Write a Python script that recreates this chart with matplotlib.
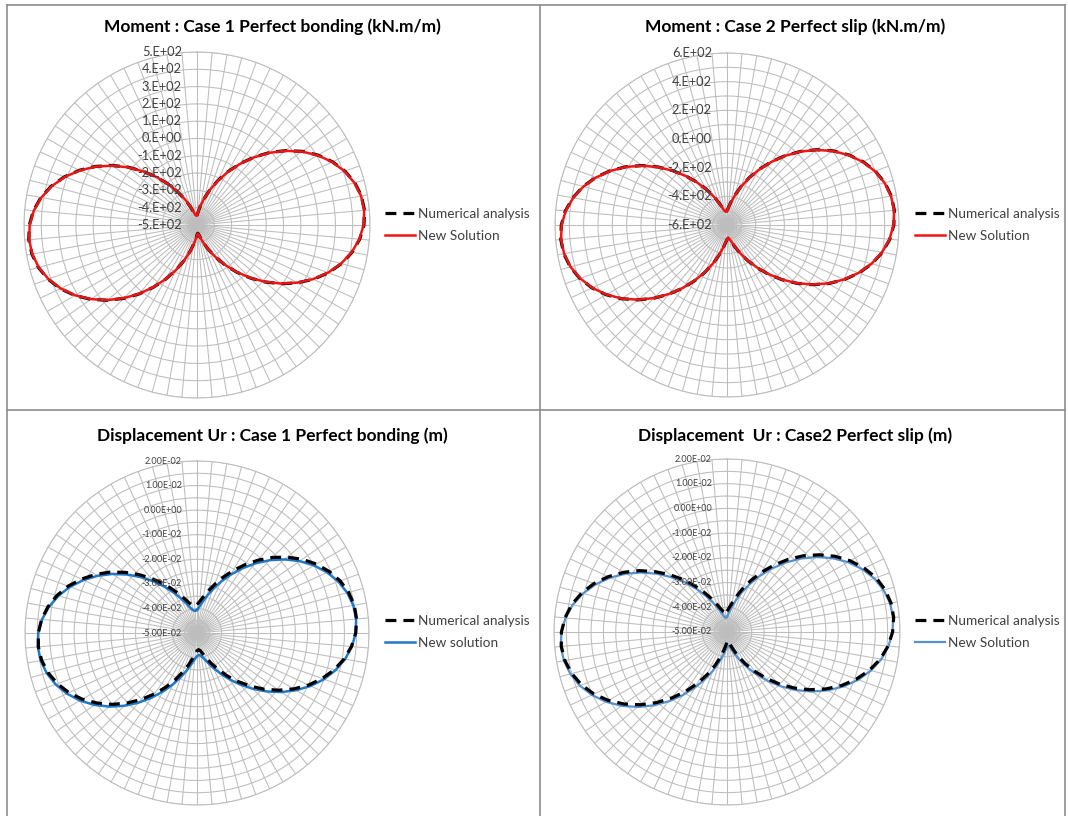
import numpy as np
import matplotlib.pyplot as plt
import matplotlib.transforms as mtransforms
from matplotlib.lines import Line2D

plt.rcParams['font.family'] = ['Lato', 'DejaVu Sans']

W, H = 1068, 816

# 72 categories, one every 5 degrees, clockwise from the top (Excel radar)
angles_deg = np.arange(0, 360, 5)

# Moment, case 1 perfect bonding (kN.m/m)
m1_numerical = [-445, -424, -389, -342, -285, -218, -145, -68, 12, 92, 169, 242,
                308, 364, 410, 444, 465, 472, 465, 444, 410, 364, 308, 242,
                169, 92, 12, -68, -145, -218, -285, -342, -389, -424, -445, -452,
                -442, -421, -386, -339, -281, -213, -139, -61, 20, 100, 177, 249,
                315, 371, 416, 449, 469, 476, 469, 449, 416, 371, 315, 249,
                177, 100, 20, -61, -139, -213, -281, -339, -386, -421, -442, -448]
m1_new = [-443, -422, -388, -342, -286, -220, -147, -70, 10, 90, 167, 240,
          306, 362, 408, 442, 463, 470, 463, 442, 408, 362, 306, 240,
          167, 90, 10, -70, -147, -220, -286, -342, -388, -422, -443, -450,
          -440, -419, -385, -338, -281, -214, -140, -63, 18, 98, 175, 247,
          313, 369, 414, 447, 467, 474, 467, 447, 414, 369, 313, 247,
          175, 98, 18, -63, -140, -214, -281, -338, -385, -419, -440, -446]

# Moment, case 2 perfect slip (kN.m/m)
m2_numerical = [-500, -476, -436, -382, -315, -238, -153, -62, 32, 126, 217, 302,
                379, 446, 500, 540, 564, 572, 564, 540, 500, 446, 379, 302,
                217, 126, 32, -62, -153, -238, -315, -382, -436, -476, -500, -508,
                -498, -474, -434, -380, -313, -237, -153, -63, 30, 123, 213, 297,
                373, 439, 492, 532, 556, 564, 556, 532, 492, 439, 373, 297,
                213, 123, 30, -63, -153, -237, -313, -380, -434, -474, -498, -506]
m2_new = [-502, -478, -438, -384, -317, -240, -155, -64, 30, 124, 215, 300,
          377, 444, 498, 538, 562, 570, 562, 538, 498, 444, 377, 300,
          215, 124, 30, -64, -155, -240, -317, -384, -438, -478, -502, -510,
          -500, -476, -436, -382, -315, -239, -155, -65, 28, 121, 211, 295,
          371, 437, 490, 530, 554, 562, 554, 530, 490, 437, 371, 295,
          211, 121, 28, -65, -155, -239, -315, -382, -436, -476, -500, -508]

# Displacement Ur, case 1 perfect bonding (m)
d1_numerical = [-0.0384, -0.0371, -0.0350, -0.0323, -0.0289, -0.0250, -0.0207, -0.0161,
                -0.0113, -0.0065, -0.0020, 0.0023, 0.0061, 0.0093, 0.0120, 0.0139,
                0.0150, 0.0152, 0.0146, 0.0131, 0.0108, 0.0078, 0.0042, 0.0001,
                -0.0045, -0.0094, -0.0144, -0.0195, -0.0243, -0.0288, -0.0329, -0.0364,
                -0.0393, -0.0414, -0.0428, -0.0432, -0.0428, -0.0415, -0.0394, -0.0365,
                -0.0331, -0.0290, -0.0245, -0.0197, -0.0147, -0.0097, -0.0048, -0.0003,
                0.0039, 0.0075, 0.0104, 0.0127, 0.0142, 0.0148, 0.0146, 0.0135,
                0.0116, 0.0090, 0.0058, 0.0019, -0.0023, -0.0068, -0.0116, -0.0163,
                -0.0209, -0.0252, -0.0291, -0.0324, -0.0351, -0.0372, -0.0384, -0.0388]
d1_new = [-0.0406, -0.0393, -0.0372, -0.0344, -0.0310, -0.0270, -0.0226, -0.0179,
          -0.0130, -0.0081, -0.0034, 0.0010, 0.0050, 0.0084, 0.0112, 0.0133,
          0.0146, 0.0150, 0.0146, 0.0133, 0.0112, 0.0084, 0.0050, 0.0010,
          -0.0034, -0.0081, -0.0130, -0.0179, -0.0226, -0.0270, -0.0310, -0.0344,
          -0.0372, -0.0393, -0.0406, -0.0410, -0.0406, -0.0393, -0.0372, -0.0344,
          -0.0310, -0.0270, -0.0226, -0.0179, -0.0130, -0.0081, -0.0034, 0.0010,
          0.0050, 0.0084, 0.0112, 0.0133, 0.0146, 0.0150, 0.0146, 0.0133,
          0.0112, 0.0084, 0.0050, 0.0010, -0.0034, -0.0081, -0.0130, -0.0179,
          -0.0226, -0.0270, -0.0310, -0.0344, -0.0372, -0.0393, -0.0406, -0.0410]

# Displacement Ur, case 2 perfect slip (m)
d2_numerical = [-0.0416, -0.0402, -0.0380, -0.0350, -0.0312, -0.0269, -0.0221, -0.0170,
                -0.0117, -0.0064, -0.0014, 0.0034, 0.0076, 0.0112, 0.0142, 0.0162,
                0.0174, 0.0177, 0.0170, 0.0154, 0.0130, 0.0097, 0.0057, 0.0012,
                -0.0039, -0.0093, -0.0148, -0.0204, -0.0257, -0.0307, -0.0352, -0.0391,
                -0.0423, -0.0445, -0.0460, -0.0465, -0.0460, -0.0446, -0.0424, -0.0392,
                -0.0354, -0.0309, -0.0259, -0.0206, -0.0151, -0.0096, -0.0042, 0.0008,
                0.0054, 0.0094, 0.0126, 0.0150, 0.0166, 0.0173, 0.0170, 0.0158,
                0.0138, 0.0109, 0.0073, 0.0030, -0.0017, -0.0067, -0.0120, -0.0172,
                -0.0223, -0.0271, -0.0314, -0.0351, -0.0381, -0.0403, -0.0416, -0.0421]
d2_new = [-0.0438, -0.0424, -0.0402, -0.0371, -0.0333, -0.0289, -0.0240, -0.0188,
          -0.0134, -0.0080, -0.0028, 0.0021, 0.0065, 0.0103, 0.0134, 0.0156,
          0.0170, 0.0175, 0.0170, 0.0156, 0.0134, 0.0103, 0.0065, 0.0021,
          -0.0028, -0.0080, -0.0134, -0.0188, -0.0240, -0.0289, -0.0333, -0.0371,
          -0.0402, -0.0424, -0.0438, -0.0443, -0.0438, -0.0424, -0.0402, -0.0371,
          -0.0333, -0.0289, -0.0240, -0.0188, -0.0134, -0.0080, -0.0028, 0.0021,
          0.0065, 0.0103, 0.0134, 0.0156, 0.0170, 0.0175, 0.0170, 0.0156,
          0.0134, 0.0103, 0.0065, 0.0021, -0.0028, -0.0080, -0.0134, -0.0188,
          -0.0240, -0.0289, -0.0333, -0.0371, -0.0402, -0.0424, -0.0438, -0.0443]

m1_ticks = [5e2, 4e2, 3e2, 2e2, 1e2, 0, -1e2, -2e2, -3e2, -4e2, -5e2]
m1_labels = ['5.E+02', '4.E+02', '3.E+02', '2.E+02', '1.E+02', '0.E+00',
             '-1.E+02', '-2.E+02', '-3.E+02', '-4.E+02', '-5.E+02']
m2_ticks = [6e2, 4e2, 2e2, 0, -2e2, -4e2, -6e2]
m2_labels = ['6.E+02', '4.E+02', '2.E+02', '0.E+00', '-2.E+02', '-4.E+02', '-6.E+02']
d_ticks = [0.02, 0.01, 0.0, -0.01, -0.02, -0.03, -0.04, -0.05]
d_labels = ['2.00E-02', '1.00E-02', '0.00E+00', '-1.00E-02', '-2.00E-02',
            '-3.00E-02', '-4.00E-02', '-5.00E-02']

fig = plt.figure(figsize=(W / 100, H / 100), dpi=100)

# panel frames
frame_kw = dict(color='#8c8c8c', lw=1.2, transform=fig.transFigure)
for x0, y0, x1, y1 in [(7, 5, 1065, 5), (7, 410, 1065, 410), (7, 5, 7, 816),
                       (540, 5, 540, 816), (1065, 5, 1065, 816)]:
    fig.add_artist(Line2D([x0 / W, x1 / W], [1 - y0 / H, 1 - y1 / H], **frame_kw))


def radar(cx, cy, R, lim, rings, ticks, labels, lab_size, num, new, new_color,
          new_lw, num_on_top, title, title_x, title_y, leg_labels, leg_x, leg_y):
    ax = fig.add_axes([(cx - R) / W, (H - cy - R) / H, 2 * R / W, 2 * R / H],
                      projection='polar')
    ax.set_theta_zero_location('N')
    ax.set_theta_direction(-1)
    ax.set_ylim(lim[0], lim[1])
    ax.set_xticks(np.deg2rad(angles_deg))
    ax.set_xticklabels([])
    ax.set_yticks(rings)
    ax.set_yticklabels([])
    ax.tick_params(length=0)
    ax.grid(True, color='#bdbdbd', lw=0.75)
    ax.spines['polar'].set_color('#bdbdbd')
    ax.spines['polar'].set_linewidth(0.75)

    th = np.deg2rad(np.r_[angles_deg, angles_deg[0]])
    num_c = np.r_[num, num[0]]
    new_c = np.r_[new, new[0]]
    z_num, z_new = (4, 3) if num_on_top else (3, 4)
    l_num, = ax.plot(th, num_c, color='black', lw=2.3, ls=(0, (3.4, 2.2)), zorder=z_num)
    l_new, = ax.plot(th, new_c, color=new_color, lw=new_lw, zorder=z_new)

    trans = mtransforms.offset_copy(ax.transData, fig=fig, x=-15, y=0, units='dots')
    for v, s in zip(ticks, labels):
        ax.text(0, v, s, transform=trans, ha='right', va='center',
                fontsize=lab_size, color='#404040', clip_on=False, zorder=6)

    fig.text(title_x / W, 1 - title_y / H, title, ha='center', va='center',
             fontsize=12.5, fontweight='bold', color='black')

    ax.legend([l_num, l_new], leg_labels, loc='center left',
              bbox_to_anchor=(leg_x / W, 1 - leg_y / H), bbox_transform=fig.transFigure,
              frameon=False, fontsize=9.8, handlelength=2.2, handletextpad=0.2,
              labelspacing=0.75, borderpad=0, borderaxespad=0, labelcolor='#404040')
    return ax


radar(197, 225, 173, (-500, 500), np.arange(-400, 501, 100), m1_ticks, m1_labels, 9.3,
      m1_numerical, m1_new, '#f01515', 1.8, False,
      'Moment : Case 1 Perfect bonding (kN.m/m)', 272, 27,
      ['Numerical analysis', 'New Solution'], 385, 225)

radar(727, 225, 172, (-600, 600), np.arange(-500, 601, 100), m2_ticks, m2_labels, 9.3,
      m2_numerical, m2_new, '#f01515', 1.8, False,
      'Moment : Case 2 Perfect slip (kN.m/m)', 795, 27,
      ['Numerical analysis', 'New Solution'], 915, 225)

radar(197, 633, 172, (-0.05, 0.02), np.arange(-0.045, 0.0201, 0.005), d_ticks, d_labels, 6.5,
      d1_numerical, d1_new, '#1f78c8', 1.8, True,
      'Displacement Ur : Case 1 Perfect bonding (m)', 272, 436,
      ['Numerical analysis', 'New solution'], 385, 632)

radar(727, 632, 173, (-0.05, 0.02), np.arange(-0.045, 0.0201, 0.005), d_ticks, d_labels, 6.5,
      d2_numerical, d2_new, '#5590d0', 1.6, True,
      'Displacement  Ur : Case2 Perfect slip (m)', 795, 436,
      ['Numerical analysis', 'New Solution'], 915, 632)

fig.savefig('out.png', dpi=100)
